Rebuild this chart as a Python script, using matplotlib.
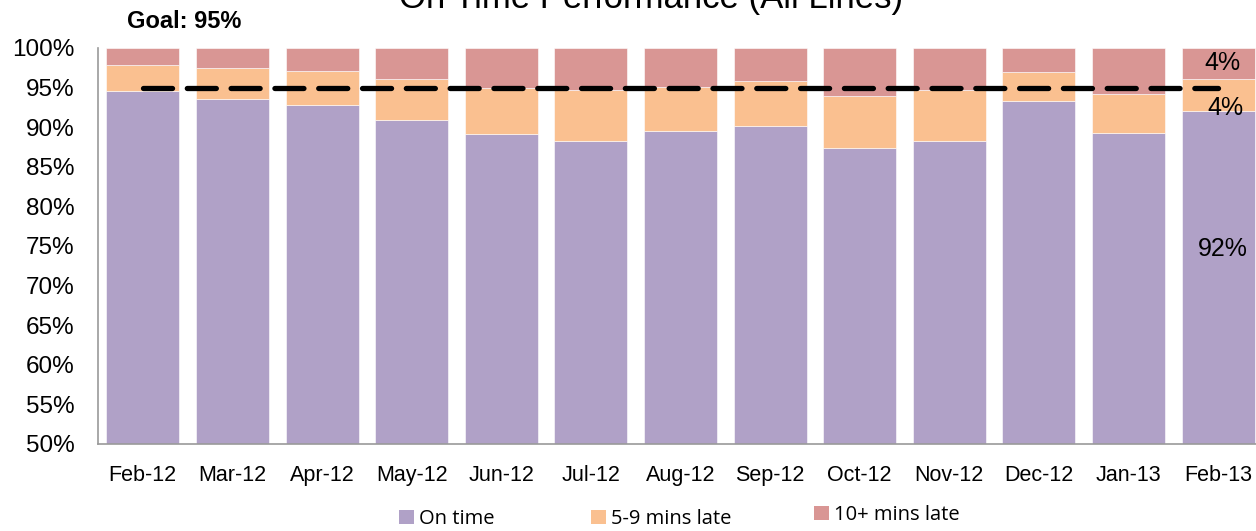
import matplotlib
matplotlib.use("Agg")
import matplotlib.pyplot as plt
from matplotlib.patches import Patch
import numpy as np

months = ["Feb-12", "Mar-12", "Apr-12", "May-12", "Jun-12", "Jul-12", "Aug-12",
          "Sep-12", "Oct-12", "Nov-12", "Dec-12", "Jan-13", "Feb-13"]
on_time = [94.6, 93.6, 92.8, 90.9, 89.1, 88.3, 89.5, 90.1, 87.4, 88.3, 93.3, 89.3, 92.0]
late_5_9 = [3.3, 3.9, 4.3, 5.2, 5.9, 6.4, 5.6, 5.7, 6.5, 6.4, 3.7, 4.9, 4.1]
late_10 = [round(100 - a - b, 1) for a, b in zip(on_time, late_5_9)]
goal = 95
series_names = ["On time", "5-9 mins late", "10+ mins late"]
colors = ["#B0A1C7", "#FAC090", "#D99694"]

narrow = ["Liberation Sans Narrow", "Liberation Sans", "DejaVu Sans"]
plt.rcParams["font.family"] = ["Liberation Sans", "DejaVu Sans"]

fig = plt.figure(figsize=(12.56, 5.31), dpi=100)
ax = fig.add_axes([98 / 1256, 1 - 444 / 531, (1263 - 98) / 1256, (444 - 48) / 531])

x = np.arange(len(months))
w = 0.815
ax.bar(x, on_time, w, color=colors[0], edgecolor="white", linewidth=0.4)
ax.bar(x, late_5_9, w, bottom=on_time, color=colors[1], edgecolor="white", linewidth=0.4)
bottom2 = [a + b for a, b in zip(on_time, late_5_9)]
ax.bar(x, late_10, w, bottom=bottom2, color=colors[2], edgecolor="white", linewidth=0.4)

ax.plot([x[0], x[-1]], [goal, goal], color="black", linewidth=3.8,
        dashes=(5.5, 2.8), solid_capstyle="round", dash_capstyle="round", zorder=5)

ax.set_xlim(-0.5, len(months) - 0.5)
ax.set_ylim(50, 100)
ax.set_yticks(np.arange(50, 101, 5))
ax.set_yticklabels([f"{v}%" for v in range(50, 101, 5)], fontsize=17.5)
ax.set_xticks(x)
ax.set_xticklabels(months, fontsize=15.5)
ax.tick_params(axis="y", length=0, pad=17)
ax.tick_params(axis="x", length=0, pad=15)
for s in ["top", "right"]:
    ax.spines[s].set_visible(False)
for s in ["left", "bottom"]:
    ax.spines[s].set_color("#9a9a9a")
    ax.spines[s].set_linewidth(1.2)

# data labels for the last bar
i = len(months) - 1
ax.text(x[i] + 0.05, bottom2[i] + late_10[i] / 2, f"{late_10[i]:.0f}%", ha="center", va="center", fontsize=18)
ax.text(x[i] + 0.08, bottom2[i] - late_5_9[i] / 2 - 1.6, f"{late_5_9[i]:.0f}%", ha="center", va="center", fontsize=18)
ax.text(x[i] + 0.05, 74.6, f"{on_time[i]:.0f}%", ha="center", va="center", fontsize=18)

fig.text(0.518, 1 - 8 / 531, "On Time Performance (All Lines)", ha="center", va="baseline",
         fontsize=25, family=narrow)
fig.text(127 / 1256, 1 - 21 / 531, "Goal: 95%", ha="left", va="center",
         fontsize=17, fontweight="bold", family=narrow)

# legend entries placed individually (Excel-like uneven spacing)
leg_pos = [(399, 519), (591, 519), (814, 515)]
for name, c, (px, py) in zip(series_names, colors, leg_pos):
    fig.legend([Patch(facecolor=c, edgecolor="none")], [name], loc="center left",
               bbox_to_anchor=(px / 1256, 1 - py / 531), frameon=False,
               handlelength=0.75, handleheight=0.75, handletextpad=0.25,
               borderaxespad=0, borderpad=0,
               prop={"family": ["Open Sans", "DejaVu Sans"], "size": 14.5})

fig.savefig("out.png", dpi=100)
